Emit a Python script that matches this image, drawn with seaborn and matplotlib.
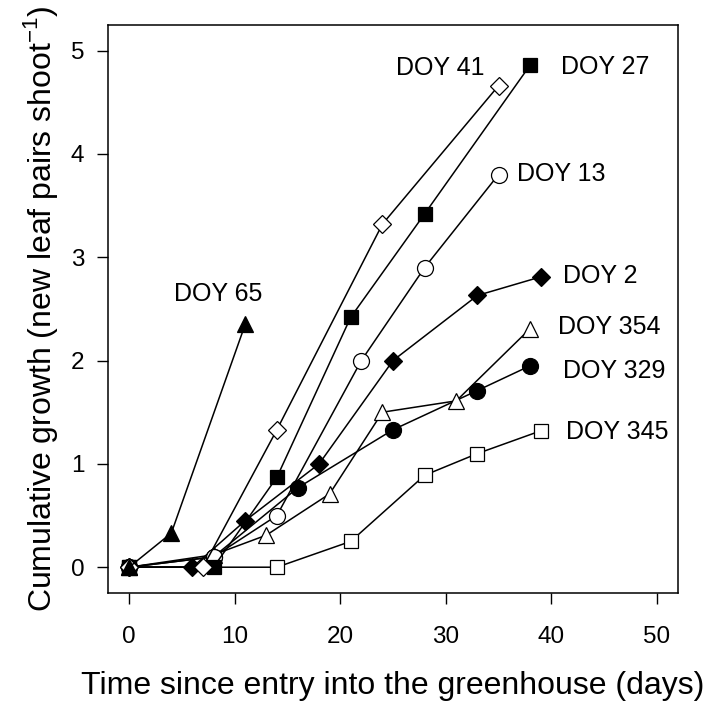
import matplotlib
matplotlib.use("Agg")
import matplotlib.pyplot as plt
import seaborn as sns

# days since entry and cumulative new leaf pairs per shoot, one set per entry date
doy65_x = [0, 4, 11]
doy65_y = [0, 0.33, 2.35]

doy41_x = [0, 7, 14, 24, 35]
doy41_y = [0, 0, 1.33, 3.32, 4.66]

doy27_x = [0, 8, 14, 21, 28, 38]
doy27_y = [0, 0, 0.87, 2.42, 3.42, 4.86]

doy13_x = [0, 8, 14, 22, 28, 35]
doy13_y = [0, 0.1, 0.5, 2.0, 2.9, 3.8]

doy2_x = [0, 6, 11, 18, 25, 33, 39]
doy2_y = [0, 0, 0.45, 1.0, 2.0, 2.63, 2.81]

doy354_x = [0, 8, 13, 19, 24, 31, 38]
doy354_y = [0, 0.12, 0.31, 0.71, 1.5, 1.61, 2.31]

doy329_x = [0, 8, 16, 25, 33, 38]
doy329_y = [0, 0.1, 0.77, 1.33, 1.71, 1.95]

doy345_x = [0, 14, 21, 28, 33, 39]
doy345_y = [0, 0, 0.25, 0.89, 1.1, 1.32]

labels = ["DOY 65", "DOY 41", "DOY 27", "DOY 13", "DOY 2",
          "DOY 354", "DOY 329", "DOY 345"]
label_x = [4.3, 25.3, 40.9, 36.7, 41.1, 40.6, 41.1, 41.4]
label_y = [2.64, 4.83, 4.84, 3.81, 2.82, 2.32, 1.90, 1.31]

sns.set_style("ticks", {"axes.edgecolor": "black", "xtick.color": "black",
                        "ytick.color": "black", "text.color": "black",
                        "axes.labelcolor": "black"})
plt.rcParams["font.family"] = ["Liberation Sans", "DejaVu Sans"]

fig = plt.figure(figsize=(7.09, 7.06), dpi=100)
ax = fig.add_axes([0.1523, 0.160, 0.804, 0.805])

series = [
    (doy345_x, doy345_y, "s", "white", 10),
    (doy329_x, doy329_y, "o", "black", 11.5),
    (doy354_x, doy354_y, "^", "white", 11.5),
    (doy2_x, doy2_y, "D", "black", 9.5),
    (doy13_x, doy13_y, "o", "white", 11.5),
    (doy27_x, doy27_y, "s", "black", 10),
    (doy41_x, doy41_y, "D", "white", 9.5),
    (doy65_x, doy65_y, "^", "black", 11.5),
]
for xs, ys, mk, fc, ms in series:
    sns.lineplot(x=xs, y=ys, ax=ax, color="black", lw=1.1, marker=mk,
                 markerfacecolor=fc, markeredgecolor="black",
                 markeredgewidth=0.9, ms=ms, estimator=None, sort=False)

for t, tx, ty in zip(labels, label_x, label_y):
    ax.text(tx, ty, t, fontsize=18, va="center", ha="left", color="black")

ax.set_xlim(-2, 52)
ax.set_ylim(-0.25, 5.25)
ax.set_xticks([0, 10, 20, 30, 40, 50])
ax.set_yticks([0, 1, 2, 3, 4, 5])
ax.tick_params(direction="out", length=8, width=1, labelsize=17.5,
               colors="black")
ax.tick_params(axis="x", pad=16)
ax.tick_params(axis="y", pad=9)
for sp in ax.spines.values():
    sp.set_visible(True)
    sp.set_linewidth(1.1)
    sp.set_color("black")

ax.set_xlabel("Time since entry into the greenhouse (days)", fontsize=23,
              labelpad=16)
ax.set_ylabel("Cumulative growth (new leaf pairs shoot$^{\\mathregular{-1}}$)",
              fontsize=23, labelpad=8)

fig.savefig("out.png", dpi=100)
